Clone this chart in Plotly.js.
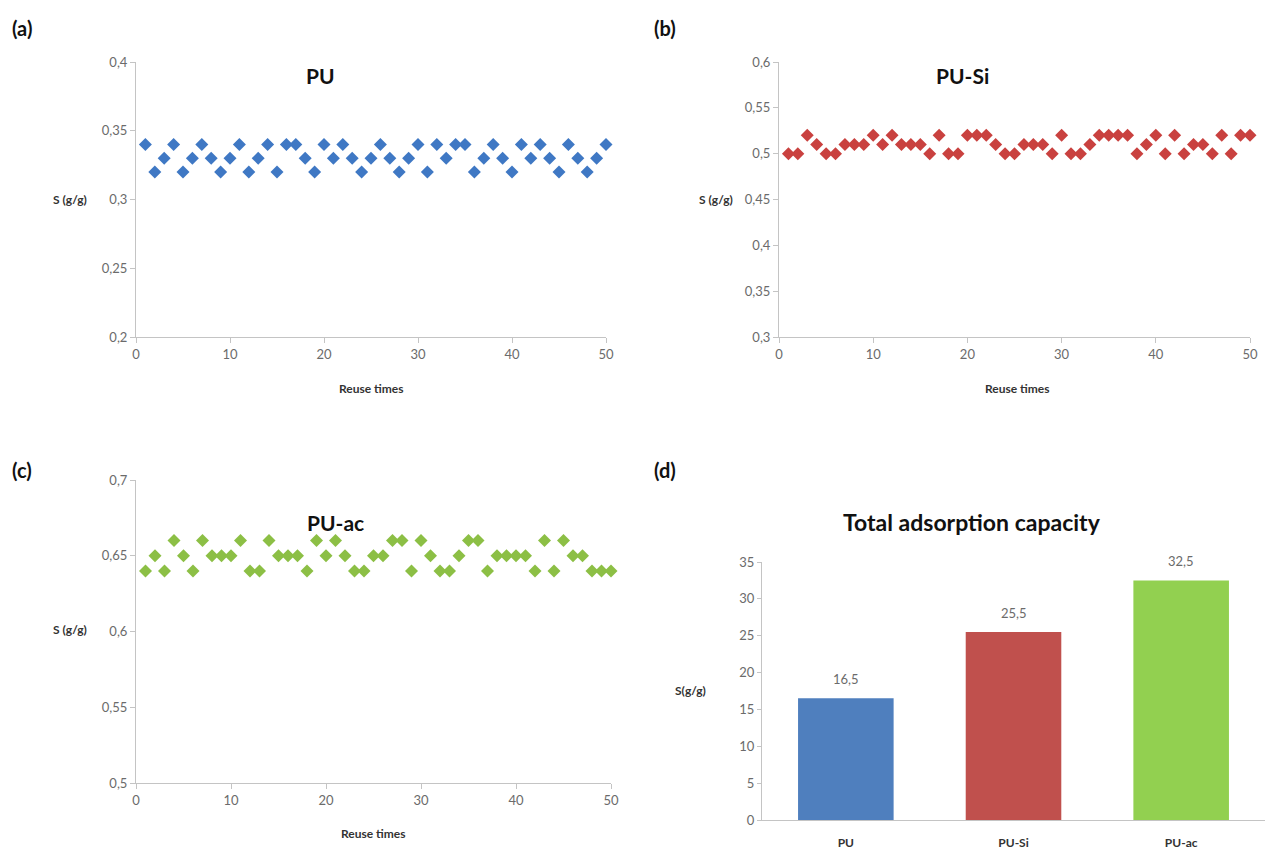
<!DOCTYPE html>
<html>
<head>
<meta charset="utf-8">
<script src="https://cdn.plot.ly/plotly-3.0.1.min.js"></script>
<style>html,body{margin:0;padding:0;background:#fff;}#chart{width:1269px;height:852px;}</style>
</head>
<body>
<div id="chart"></div>
<script>
// ---- Data ----
const reuseTimes = [1,2,3,4,5,6,7,8,9,10,11,12,13,14,15,16,17,18,19,20,21,22,23,24,25,26,27,28,29,30,31,32,33,34,35,36,37,38,39,40,41,42,43,44,45,46,47,48,49,50];
const puValues = [0.34,0.32,0.33,0.34,0.32,0.33,0.34,0.33,0.32,0.33,0.34,0.32,0.33,0.34,0.32,0.34,0.34,0.33,0.32,0.34,0.33,0.34,0.33,0.32,0.33,0.34,0.33,0.32,0.33,0.34,0.32,0.34,0.33,0.34,0.34,0.32,0.33,0.34,0.33,0.32,0.34,0.33,0.34,0.33,0.32,0.34,0.33,0.32,0.33,0.34];
const puSiValues = [0.50,0.50,0.52,0.51,0.50,0.50,0.51,0.51,0.51,0.52,0.51,0.52,0.51,0.51,0.51,0.50,0.52,0.50,0.50,0.52,0.52,0.52,0.51,0.50,0.50,0.51,0.51,0.51,0.50,0.52,0.50,0.50,0.51,0.52,0.52,0.52,0.52,0.50,0.51,0.52,0.50,0.52,0.50,0.51,0.51,0.50,0.52,0.50,0.52,0.52];
const puAcValues = [0.64,0.65,0.64,0.66,0.65,0.64,0.66,0.65,0.65,0.65,0.66,0.64,0.64,0.66,0.65,0.65,0.65,0.64,0.66,0.65,0.66,0.65,0.64,0.64,0.65,0.65,0.66,0.66,0.64,0.66,0.65,0.64,0.64,0.65,0.66,0.66,0.64,0.65,0.65,0.65,0.65,0.64,0.66,0.64,0.66,0.65,0.65,0.64,0.64,0.64];
const materials = ['PU','PU-Si','PU-ac'];
const totalCapacity = [16.5, 25.5, 32.5];

const W = 1269, H = 852;
const px = v => v / W;
const py = v => 1 - v / H;

const FAM = 'Lato, "Open Sans", sans-serif';
const tickFont = {family:FAM, size:13, color:'#6b6b6b'};
const axisBase = {
  showgrid:false, zeroline:false, showline:true, linecolor:'#c4c4c4', linewidth:1,
  ticks:'outside', ticklen:5, tickcolor:'#c4c4c4', tickfont:tickFont, fixedrange:true
};
function ax(extra){ return Object.assign({}, axisBase, extra); }

const markerBase = {symbol:'diamond', size:10, line:{width:0}};

const traces = [
  {type:'scatter', mode:'markers', x:reuseTimes, y:puValues, xaxis:'x', yaxis:'y',
   marker:Object.assign({}, markerBase, {color:'#3f78c4'}), cliponaxis:false, showlegend:false},
  {type:'scatter', mode:'markers', x:reuseTimes, y:puSiValues, xaxis:'x2', yaxis:'y2',
   marker:Object.assign({}, markerBase, {color:'#c9413f'}), cliponaxis:false, showlegend:false},
  {type:'scatter', mode:'markers', x:reuseTimes, y:puAcValues, xaxis:'x3', yaxis:'y3',
   marker:Object.assign({}, markerBase, {color:'#8cbf45'}), cliponaxis:false, showlegend:false},
  {type:'bar', x:materials, y:totalCapacity, xaxis:'x4', yaxis:'y4',
   marker:{color:['#4f7fbe','#c0504d','#92d050']}, width:0.57,
   cliponaxis:false, showlegend:false, hoverinfo:'x+y'}
];

const titleFont = {family:FAM, size:21, color:'#111', weight:'bold'};
const labelFont = {family:FAM, size:20, color:'#111', weight:'bold'};
const axTitleFont = {family:FAM, size:12, color:'#333', weight:'bold'};

function ann(text, x, y, font, xanchor){
  return {text:text, x:px(x), y:py(y), xref:'paper', yref:'paper', showarrow:false,
          font:font, xanchor:xanchor||'center', yanchor:'middle'};
}

const barLabels = materials.map((m, i) => ({
  text:String(totalCapacity[i]).replace('.', ','), x:m, y:totalCapacity[i],
  xref:'x4', yref:'y4', showarrow:false, yanchor:'bottom', yshift:9,
  font:{family:FAM, size:13, color:'#6b6b6b'}
}));

const layout = {
  width:W, height:H, margin:{l:0,r:0,t:0,b:0},
  paper_bgcolor:'#ffffff', plot_bgcolor:'#ffffff',
  separators:', ',
  showlegend:false,
  xaxis: ax({domain:[px(136), px(606)], range:[0,50], dtick:10, anchor:'y'}),
  yaxis: ax({domain:[py(337), py(62)], range:[0.2,0.4], dtick:0.05, anchor:'x'}),
  xaxis2: ax({domain:[px(779), px(1250)], range:[0,50], dtick:10, anchor:'y2'}),
  yaxis2: ax({domain:[py(337), py(62)], range:[0.3,0.6], dtick:0.05, anchor:'x2'}),
  xaxis3: ax({domain:[px(136), px(611)], range:[0,50], dtick:10, anchor:'y3'}),
  yaxis3: ax({domain:[py(783), py(480)], range:[0.5,0.7], dtick:0.05, anchor:'x3'}),
  xaxis4: ax({domain:[px(762), px(1265)], type:'category', anchor:'y4', ticks:'',
              ticklabelstandoff:12,
              tickfont:{family:FAM, size:12, color:'#333', weight:'bold'}}),
  yaxis4: ax({domain:[py(820), py(562)], range:[0,35], dtick:5, anchor:'x4', ticklen:4}),
  annotations: [
    ann('(a)', 10, 28, labelFont, 'left'),
    ann('(b)', 652, 28, labelFont, 'left'),
    ann('(c)', 10, 470, labelFont, 'left'),
    ann('(d)', 652, 470, labelFont, 'left'),
    ann('PU', 321, 76, titleFont),
    ann('PU-Si', 962, 76, titleFont),
    ann('PU-ac', 335, 522, titleFont),
    ann('Total adsorption capacity', 972, 522, Object.assign({}, titleFont, {size:23})),
    ann('S (g/g)', 70, 199, axTitleFont),
    ann('S (g/g)', 716, 199, axTitleFont),
    ann('S (g/g)', 70, 629, axTitleFont),
    ann('S(g/g)', 690, 690, axTitleFont),
    ann('Reuse times', 371, 388, axTitleFont),
    ann('Reuse times', 1017, 388, axTitleFont),
    ann('Reuse times', 373, 833, axTitleFont)
  ].concat(barLabels)
};

Plotly.newPlot('chart', traces, layout, {displayModeBar:false, staticPlot:true});
</script>
</body>
</html>
